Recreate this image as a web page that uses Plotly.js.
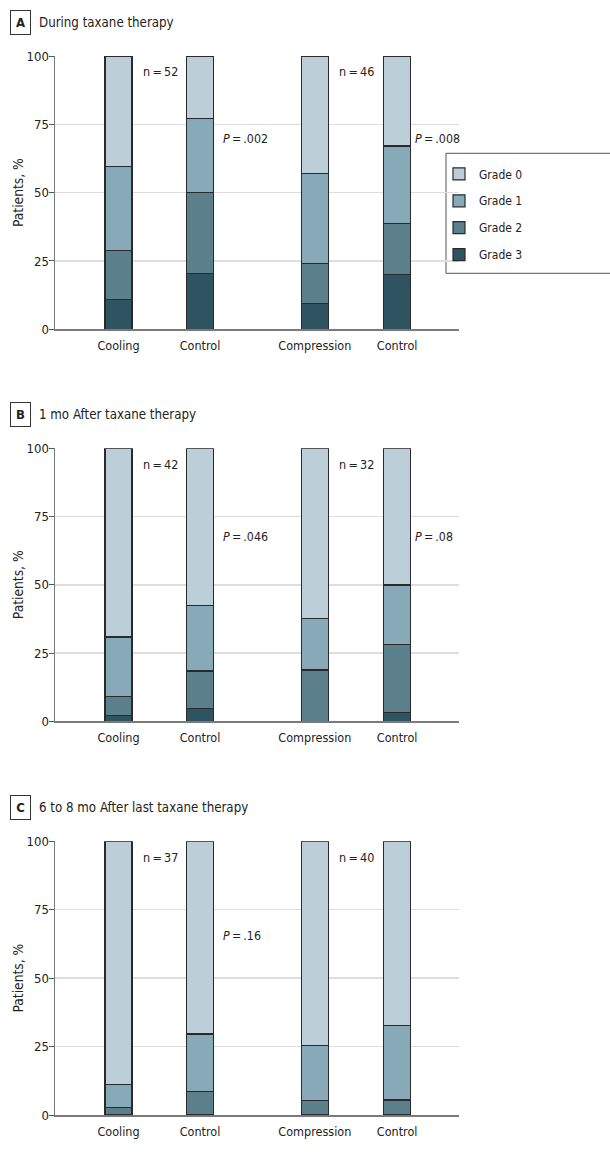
<!DOCTYPE html>
<html><head><meta charset="utf-8">
<script src="https://cdn.plot.ly/plotly-3.0.1.min.js"></script>
<style>html,body{margin:0;padding:0;background:#fff;overflow:hidden}</style>
</head><body><div id="chart" style="width:610px;height:1153px"></div>
<script>
// ---------- data ----------
const groupLabels = ["Cooling", "Control", "Compression", "Control"];
const gradeNames = ["Grade 0", "Grade 1", "Grade 2", "Grade 3"];

// Panel A: during taxane therapy (% of patients)
const duringGrade0 = [40.4, 22.8, 43.0, 32.9];
const duringGrade1 = [30.9, 27.1, 32.9, 28.5];
const duringGrade2 = [17.7, 29.6, 14.7, 18.5];
const duringGrade3 = [11.0, 20.5, 9.4, 20.1];

// Panel B: 1 mo after taxane therapy
const oneMoGrade0 = [69.1, 57.5, 62.4, 50.1];
const oneMoGrade1 = [21.9, 24.1, 18.8, 21.9];
const oneMoGrade2 = [6.9, 13.6, 18.8, 24.9];
const oneMoGrade3 = [2.1, 4.8, 0, 3.1];

// Panel C: 6 to 8 mo after last taxane therapy
const sixMoGrade0 = [88.8, 70.4, 74.5, 67.4];
const sixMoGrade1 = [8.4, 21.1, 20.3, 27.1];
const sixMoGrade2 = [2.8, 8.5, 5.2, 5.5];
const sixMoGrade3 = [0, 0, 0, 0];

const panelLetters = ["A", "B", "C"];
const panelTitles = ["During taxane therapy", "1 mo After taxane therapy", "6 to 8 mo After last taxane therapy"];
const sampleSizes = [["52", "46"], ["42", "32"], ["37", "40"]];
const pValues = [[".002", ".008"], [".046", ".08"], [".16", null]];

// ---------- layout helpers (positions / styles) ----------
const groupPos = [0, 1, 2.41, 3.42];
const FONT = "'DejaVu Sans Condensed', 'Liberation Sans Narrow', 'Liberation Sans', sans-serif";
const gradeColors = ["#bccfd8", "#87a9b8", "#5c7f8c", "#2e5361"];
const W = 610, H = 1153, ML = 55, MR = 151, MT = 56, MB = 38;
const PW = W - ML - MR, PH = H - MT - MB;
const py = y => (H - MB - y) / PH;   // pixel -> paper y
const px = x => (x - ML) / PW;       // pixel -> paper x
const domains = [[py(329.3), 1], [py(721.3), py(448.3)], [0, py(841.3)]];
const panelTops = [55.7, 448.3, 841.3];
const nY = [94.2, 93.9, 94.2];
const pY = [69.8, 67.6, 65.5];

const panels = [
  [duringGrade0, duringGrade1, duringGrade2, duringGrade3],
  [oneMoGrade0, oneMoGrade1, oneMoGrade2, oneMoGrade3],
  [sixMoGrade0, sixMoGrade1, sixMoGrade2, sixMoGrade3]
];

const traces = [];
panels.forEach((series, p) => {
  const xa = p === 0 ? "x" : "x" + (p + 1);
  const ya = p === 0 ? "y" : "y" + (p + 1);
  for (let g = 3; g >= 0; g--) {
    traces.push({
      type: "bar",
      x: groupPos,
      y: series[g],
      name: gradeNames[g],
      legendgroup: gradeNames[g],
      legendrank: g + 1,
      showlegend: p === 0,
      xaxis: xa, yaxis: ya,
      width: 0.33,
      marker: { color: gradeColors[g], line: { color: "#2a2a2a", width: 1.2 } },
      hoverinfo: "name+y"
    });
  }
});

const layout = {
  width: W, height: H,
  margin: { l: ML, r: MR, t: MT, b: MB },
  paper_bgcolor: "#fff", plot_bgcolor: "#fff",
  barmode: "stack",
  bargap: 0,
  font: { family: FONT, color: "#222", size: 12.5 },
  showlegend: true,
  legend: {
    x: px(439), y: py(159.4), xanchor: "left", yanchor: "top",
    bgcolor: "rgba(0,0,0,0)", borderwidth: 0,
    traceorder: "grouped", tracegroupgap: 7.9,
    font: { family: FONT, size: 12, color: "#222" }
  },
  annotations: [],
  shapes: [{
    type: "rect", xref: "paper", yref: "paper",
    x0: px(446), x1: px(612), y0: py(273.3), y1: py(153.3),
    line: { color: "#555", width: 1 }, fillcolor: "rgba(0,0,0,0)", layer: "below"
  }]
};

panels.forEach((s, p) => {
  const sfx = p === 0 ? "" : String(p + 1);
  layout["xaxis" + sfx] = {
    domain: [0, 1], anchor: "y" + sfx, range: [-0.78, 4.18],
    tickvals: groupPos, ticktext: groupLabels, ticks: "", ticklen: 0, ticklabelstandoff: 4,
    showline: true, linecolor: "#7a7a7a", linewidth: 1.5,
    showgrid: false, zeroline: false, fixedrange: true,
    tickfont: { family: FONT, size: 12.5, color: "#222" }
  };
  layout["yaxis" + sfx] = {
    domain: domains[p], anchor: "x" + sfx, range: [0, 100],
    tickvals: [0, 25, 50, 75, 100], ticks: "outside", ticklen: 5, tickcolor: "#555", tickwidth: 1,
    ticklabelstandoff: -3,
    showline: true, linecolor: "#7a7a7a", linewidth: 1.5,
    showgrid: true, gridcolor: "#dedede", gridwidth: 1.5, zeroline: false, fixedrange: true,
    tickfont: { family: FONT, size: 13, color: "#222" },
    title: { text: "Patients, %", font: { family: FONT, size: 13.7, color: "#222" }, standoff: 0 }
  };
  const yc = py(panelTops[p] - 33.7);
  layout.annotations.push({
    xref: "paper", yref: "paper", x: px(20.3), y: yc, xanchor: "center", yanchor: "middle",
    text: "<b>" + panelLetters[p] + "</b>", showarrow: false,
    font: { family: FONT, size: 13, color: "#222" },
    bordercolor: "#333", borderwidth: 1, borderpad: 1, width: 17, height: 21
  });
  layout.annotations.push({
    xref: "paper", yref: "paper", x: px(37), y: yc, xanchor: "left", yanchor: "middle",
    text: panelTitles[p], showarrow: false,
    font: { family: FONT, size: 13.2, color: "#222" }
  });
  // n labels next to the intervention bars
  [0, 2].forEach((gi, k) => {
    layout.annotations.push({
      xref: "x" + sfx, yref: "y" + sfx, x: groupPos[gi], y: nY[p], xanchor: "left", yanchor: "middle",
      xshift: 22, text: "n\u2009=\u2009" + sampleSizes[p][k], showarrow: false,
      font: { family: FONT, size: 12.5, color: "#222" }
    });
  });
  // P values next to control bars
  [1, 3].forEach((gi, k) => {
    if (pValues[p][k] === null) return;
    layout.annotations.push({
      xref: "x" + sfx, yref: "y" + sfx, x: groupPos[gi], y: pY[p], xanchor: "left", yanchor: "middle",
      xshift: k === 0 ? 21 : 15.5, text: "<i>P</i>\u2009=\u2009" + pValues[p][k], showarrow: false,
      font: { family: FONT, size: 12.3, color: "#222" }
    });
  });
});

Plotly.newPlot("chart", traces, layout, { staticPlot: true, displayModeBar: false });
</script>
</body></html>
